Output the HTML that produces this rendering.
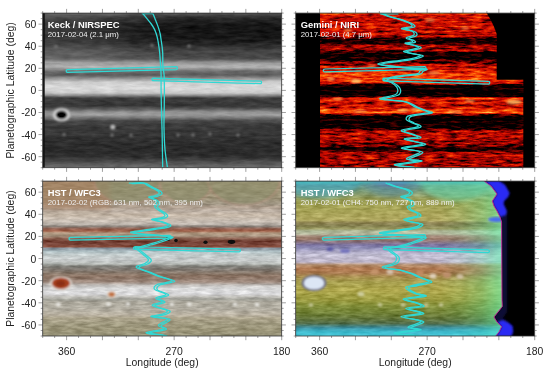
<!DOCTYPE html>
<html><head><meta charset="utf-8"><style>
html,body{margin:0;padding:0;background:#fff;width:550px;height:372px;overflow:hidden}
svg{display:block}
text{-webkit-font-smoothing:antialiased}
.t{font-family:"Liberation Sans",sans-serif;font-size:10.4px;fill:#222}
.h{font-family:"Liberation Sans",sans-serif;font-size:9.4px;font-weight:bold;fill:#fff}
.s{font-family:"Liberation Sans",sans-serif;font-size:7.8px;fill:#eee}
</style></head><body>
<svg width="550" height="372" viewBox="0 0 550 372" style="will-change:transform">
<defs><clipPath id="ck"><rect x="42.7" y="13.1" width="239.00" height="154.60"/></clipPath><linearGradient id="gk" x1="0" y1="13.1" x2="0" y2="167.7" gradientUnits="userSpaceOnUse"><stop offset="0.0000" stop-color="#585858"/><stop offset="0.0155" stop-color="#3e3e3e"/><stop offset="0.0446" stop-color="#222"/><stop offset="0.0834" stop-color="#161616"/><stop offset="0.1481" stop-color="#161616"/><stop offset="0.1869" stop-color="#1e1e1e"/><stop offset="0.2193" stop-color="#323232"/><stop offset="0.2516" stop-color="#464646"/><stop offset="0.2775" stop-color="#464646"/><stop offset="0.2969" stop-color="#505050"/><stop offset="0.3228" stop-color="#989898"/><stop offset="0.3486" stop-color="#b4b4b4"/><stop offset="0.3745" stop-color="#707070"/><stop offset="0.4004" stop-color="#5a5a5a"/><stop offset="0.4198" stop-color="#8a8a8a"/><stop offset="0.4457" stop-color="#cccccc"/><stop offset="0.4845" stop-color="#dadada"/><stop offset="0.5168" stop-color="#c8c8c8"/><stop offset="0.5330" stop-color="#8a8a8a"/><stop offset="0.5492" stop-color="#3c3c3c"/><stop offset="0.6009" stop-color="#383838"/><stop offset="0.6203" stop-color="#5a5a5a"/><stop offset="0.6397" stop-color="#909090"/><stop offset="0.6591" stop-color="#9e9e9e"/><stop offset="0.6785" stop-color="#707070"/><stop offset="0.6979" stop-color="#484848"/><stop offset="0.7303" stop-color="#3a3a3a"/><stop offset="0.7885" stop-color="#353535"/><stop offset="0.8532" stop-color="#2b2b2b"/><stop offset="0.9243" stop-color="#2c2c2c"/><stop offset="0.9567" stop-color="#464646"/><stop offset="0.9825" stop-color="#5e5e5e"/><stop offset="1.0000" stop-color="#6e6e6e"/></linearGradient><linearGradient id="gkl" x1="42.7" y1="0" x2="281.7" y2="0" gradientUnits="userSpaceOnUse"><stop offset="0.0000" stop-color="#fff" stop-opacity="0.0"/><stop offset="0.0126" stop-color="#fff" stop-opacity="0.15"/><stop offset="0.2092" stop-color="#fff" stop-opacity="0.12"/><stop offset="0.4184" stop-color="#fff" stop-opacity="0.03"/><stop offset="0.5439" stop-color="#fff" stop-opacity="0.0"/><stop offset="1.0000" stop-color="#fff" stop-opacity="0"/></linearGradient><filter id="ftexk" filterUnits="objectBoundingBox" x="0" y="0" width="1" height="1" color-interpolation-filters="sRGB"><feTurbulence type="fractalNoise" baseFrequency="0.07 0.3" numOctaves="3" seed="8" result="t"/><feColorMatrix in="t" type="matrix" values="1 0 0 0 0  1 0 0 0 0  1 0 0 0 0  0 0 0 0 1" result="n"/><feComposite in="SourceGraphic" in2="n" operator="arithmetic" k1="0" k2="1" k3="0.16" k4="-0.08"/></filter><filter id="fk1" x="-50%" y="-50%" width="200%" height="200%"><feGaussianBlur stdDeviation="0.9"/></filter><filter id="fk2" x="-100%" y="-100%" width="300%" height="300%"><feGaussianBlur stdDeviation="1.2"/></filter><clipPath id="cg"><rect x="295.7" y="13.1" width="239.00" height="154.60"/></clipPath><linearGradient id="gg" x1="0" y1="13.1" x2="0" y2="167.7" gradientUnits="userSpaceOnUse"><stop offset="0.0000" stop-color="#9e9e9e"/><stop offset="0.0123" stop-color="#5c5c5c"/><stop offset="0.0446" stop-color="#4f4f4f"/><stop offset="0.0964" stop-color="#575757"/><stop offset="0.1481" stop-color="#4a4a4a"/><stop offset="0.1675" stop-color="#080808"/><stop offset="0.1934" stop-color="#0d0d0d"/><stop offset="0.2128" stop-color="#454545"/><stop offset="0.2387" stop-color="#3d3d3d"/><stop offset="0.2549" stop-color="#030303"/><stop offset="0.2969" stop-color="#030303"/><stop offset="0.3163" stop-color="#1f1f1f"/><stop offset="0.3454" stop-color="#4c4c4c"/><stop offset="0.3771" stop-color="#6b6b6b"/><stop offset="0.4004" stop-color="#858585"/><stop offset="0.4327" stop-color="#808080"/><stop offset="0.4554" stop-color="#4c4c4c"/><stop offset="0.4683" stop-color="#000000"/><stop offset="0.5395" stop-color="#000000"/><stop offset="0.5492" stop-color="#737373"/><stop offset="0.5653" stop-color="#6b6b6b"/><stop offset="0.5815" stop-color="#4c4c4c"/><stop offset="0.6074" stop-color="#525252"/><stop offset="0.6268" stop-color="#808080"/><stop offset="0.6429" stop-color="#8c8c8c"/><stop offset="0.6559" stop-color="#333333"/><stop offset="0.6656" stop-color="#000000"/><stop offset="0.7432" stop-color="#000000"/><stop offset="0.7626" stop-color="#424242"/><stop offset="0.7950" stop-color="#4c4c4c"/><stop offset="0.8273" stop-color="#424242"/><stop offset="0.8596" stop-color="#212121"/><stop offset="0.8790" stop-color="#050505"/><stop offset="0.9049" stop-color="#424242"/><stop offset="0.9308" stop-color="#4c4c4c"/><stop offset="0.9631" stop-color="#3d3d3d"/><stop offset="1.0000" stop-color="#424242"/></linearGradient><clipPath id="cgs"><path d="M320 13.1H486.7Q494 25 496.7 34V79.7H523.3V167.7H320Z"/></clipPath><filter id="fhot" x="295" y="13" width="240" height="156" filterUnits="userSpaceOnUse" color-interpolation-filters="sRGB"><feTurbulence type="fractalNoise" baseFrequency="0.085 0.42" numOctaves="4" seed="11" result="t"/><feColorMatrix in="t" type="matrix" values="1 0 0 0 0  1 0 0 0 0  1 0 0 0 0  0 0 0 0 1" result="n"/><feComposite in="SourceGraphic" in2="n" operator="arithmetic" k1="0" k2="1" k3="0.85" k4="-0.425" result="s"/><feComponentTransfer in="s"><feFuncR type="table" tableValues="0 0.45 0.8 0.95 1 1 1"/><feFuncG type="table" tableValues="0 0 0.04 0.2 0.45 0.75 0.95"/><feFuncB type="table" tableValues="0 0 0 0 0.05 0.3 0.7"/><feFuncA type="table" tableValues="1 1"/></feComponentTransfer></filter><linearGradient id="ggd" x1="0" y1="13.1" x2="0" y2="167.7" gradientUnits="userSpaceOnUse"><stop offset="0.0000" stop-color="#000" stop-opacity="0"/><stop offset="0.1611" stop-color="#000" stop-opacity="0"/><stop offset="0.1740" stop-color="#000" stop-opacity="0.4"/><stop offset="0.1934" stop-color="#000" stop-opacity="0.4"/><stop offset="0.2063" stop-color="#000" stop-opacity="0"/><stop offset="0.2484" stop-color="#000" stop-opacity="0"/><stop offset="0.2613" stop-color="#000" stop-opacity="0.45"/><stop offset="0.2937" stop-color="#000" stop-opacity="0.45"/><stop offset="0.3098" stop-color="#000" stop-opacity="0"/><stop offset="0.4618" stop-color="#000" stop-opacity="0"/><stop offset="0.4748" stop-color="#000" stop-opacity="0.55"/><stop offset="0.5330" stop-color="#000" stop-opacity="0.55"/><stop offset="0.5440" stop-color="#000" stop-opacity="0"/><stop offset="0.6591" stop-color="#000" stop-opacity="0"/><stop offset="0.6721" stop-color="#000" stop-opacity="0.5"/><stop offset="0.7367" stop-color="#000" stop-opacity="0.5"/><stop offset="0.7529" stop-color="#000" stop-opacity="0"/><stop offset="0.8629" stop-color="#000" stop-opacity="0"/><stop offset="0.8726" stop-color="#000" stop-opacity="0.35"/><stop offset="0.8887" stop-color="#000" stop-opacity="0.35"/><stop offset="0.8984" stop-color="#000" stop-opacity="0"/><stop offset="1.0000" stop-color="#000" stop-opacity="0"/></linearGradient><clipPath id="cr"><rect x="42.7" y="181.1" width="239.00" height="154.90"/></clipPath><linearGradient id="gr" x1="0" y1="181.1" x2="0" y2="336.0" gradientUnits="userSpaceOnUse"><stop offset="0.0000" stop-color="#a89880"/><stop offset="0.0123" stop-color="#9e9274"/><stop offset="0.0575" stop-color="#9a9072"/><stop offset="0.1091" stop-color="#9c9278"/><stop offset="0.1478" stop-color="#a09684"/><stop offset="0.1672" stop-color="#b0a090"/><stop offset="0.1930" stop-color="#b8aca0"/><stop offset="0.2189" stop-color="#c6b8a8"/><stop offset="0.2608" stop-color="#c8beb4"/><stop offset="0.2802" stop-color="#b8b0a8"/><stop offset="0.2931" stop-color="#8a8078"/><stop offset="0.3092" stop-color="#946050"/><stop offset="0.3221" stop-color="#a06048"/><stop offset="0.3351" stop-color="#b09880"/><stop offset="0.3544" stop-color="#a89480"/><stop offset="0.3706" stop-color="#8a6050"/><stop offset="0.3899" stop-color="#703c30"/><stop offset="0.4093" stop-color="#784438"/><stop offset="0.4222" stop-color="#8a5040"/><stop offset="0.4351" stop-color="#8a96a0"/><stop offset="0.4545" stop-color="#b0c0c4"/><stop offset="0.4771" stop-color="#c6cece"/><stop offset="0.5094" stop-color="#c4c8c8"/><stop offset="0.5352" stop-color="#b8bcb8"/><stop offset="0.5481" stop-color="#80807a"/><stop offset="0.5739" stop-color="#807870"/><stop offset="0.5933" stop-color="#8a7a6c"/><stop offset="0.6127" stop-color="#8a7262"/><stop offset="0.6320" stop-color="#907a6c"/><stop offset="0.6514" stop-color="#a08c80"/><stop offset="0.6708" stop-color="#c0bcb8"/><stop offset="0.6901" stop-color="#d8d8d8"/><stop offset="0.7289" stop-color="#dadadc"/><stop offset="0.7482" stop-color="#c0beb8"/><stop offset="0.7611" stop-color="#a0a098"/><stop offset="0.7805" stop-color="#aca89c"/><stop offset="0.8192" stop-color="#b0aca0"/><stop offset="0.8451" stop-color="#b4aea0"/><stop offset="0.8644" stop-color="#c0b8a8"/><stop offset="0.8838" stop-color="#a8a088"/><stop offset="0.9225" stop-color="#a09a80"/><stop offset="0.9613" stop-color="#9a9478"/><stop offset="1.0000" stop-color="#969278"/></linearGradient><filter id="ftex" filterUnits="objectBoundingBox" x="0" y="0" width="1" height="1" color-interpolation-filters="sRGB"><feTurbulence type="fractalNoise" baseFrequency="0.08 0.35" numOctaves="3" seed="3" result="t"/><feColorMatrix in="t" type="matrix" values="1 0 0 0 0  1 0 0 0 0  1 0 0 0 0  0 0 0 0 1" result="n"/><feComposite in="SourceGraphic" in2="n" operator="arithmetic" k1="0" k2="1" k3="0.3" k4="-0.15"/></filter><clipPath id="cc"><rect x="295.7" y="181.1" width="239.00" height="154.90"/></clipPath><linearGradient id="gc" x1="0" y1="181.1" x2="0" y2="336.0" gradientUnits="userSpaceOnUse"><stop offset="0.0000" stop-color="#5a9896"/><stop offset="0.0252" stop-color="#66988c"/><stop offset="0.0575" stop-color="#789a78"/><stop offset="0.0897" stop-color="#8a9c6a"/><stop offset="0.1156" stop-color="#9a9e58"/><stop offset="0.1543" stop-color="#a0a052"/><stop offset="0.1866" stop-color="#a8a458"/><stop offset="0.2189" stop-color="#aca65c"/><stop offset="0.2511" stop-color="#b0a860"/><stop offset="0.2705" stop-color="#8a8050"/><stop offset="0.2899" stop-color="#848050"/><stop offset="0.3060" stop-color="#9a9a62"/><stop offset="0.3221" stop-color="#b0b898"/><stop offset="0.3415" stop-color="#b8bca0"/><stop offset="0.3544" stop-color="#a89080"/><stop offset="0.3738" stop-color="#9a7868"/><stop offset="0.3932" stop-color="#8a7480"/><stop offset="0.4125" stop-color="#7a72a0"/><stop offset="0.4319" stop-color="#8a88b0"/><stop offset="0.4545" stop-color="#b0acc8"/><stop offset="0.4771" stop-color="#c4c0d4"/><stop offset="0.5223" stop-color="#c0b8cc"/><stop offset="0.5416" stop-color="#b08a68"/><stop offset="0.5675" stop-color="#b07850"/><stop offset="0.5933" stop-color="#a87a50"/><stop offset="0.6191" stop-color="#a89050"/><stop offset="0.6514" stop-color="#a8a050"/><stop offset="0.7030" stop-color="#b0a84e"/><stop offset="0.7676" stop-color="#98983e"/><stop offset="0.8063" stop-color="#84903c"/><stop offset="0.8515" stop-color="#728238"/><stop offset="0.8903" stop-color="#62743c"/><stop offset="0.9225" stop-color="#547050"/><stop offset="0.9484" stop-color="#3e7888"/><stop offset="0.9742" stop-color="#3caac0"/><stop offset="1.0000" stop-color="#50d0e0"/></linearGradient><clipPath id="ccp"><path d="M294.7 180.1L484.0 181.1L491.0 186.0L497.0 194.0L492.4 201.0L494.0 206.0L497.0 211.0L500.0 217.0L501.6 222.0L502.0 300.0L502.3 306.5L498.0 312.0L494.0 317.0L497.0 322.0L501.6 326.7L499.0 332.0L495.3 336.5L294.7 337.0Z"/></clipPath><filter id="fb1" x="-20%" y="-20%" width="140%" height="140%"><feGaussianBlur stdDeviation="0.8"/></filter><linearGradient id="gcl" x1="440" y1="0" x2="503" y2="0" gradientUnits="userSpaceOnUse"><stop offset="0.0000" stop-color="#58e8a0" stop-opacity="0"/><stop offset="0.3492" stop-color="#58e8a0" stop-opacity="0.1"/><stop offset="0.6667" stop-color="#58f0a8" stop-opacity="0.28"/><stop offset="0.8889" stop-color="#60f8b0" stop-opacity="0.5"/><stop offset="1.0000" stop-color="#70ffc0" stop-opacity="0.6"/></linearGradient><filter id="fb3" x="-30%" y="-30%" width="160%" height="160%"><feGaussianBlur stdDeviation="2.5"/></filter><linearGradient id="gcb" x1="295.7" y1="0" x2="503" y2="0" gradientUnits="userSpaceOnUse"><stop offset="0.0000" stop-color="#40c8d8" stop-opacity="0.0"/><stop offset="0.0048" stop-color="#40c8d8" stop-opacity="0.0"/></linearGradient></defs>
<g clip-path="url(#ck)"><rect x="42.7" y="13.1" width="239.0" height="154.60" fill="url(#gk)" filter="url(#ftexk)"/><rect x="42.7" y="13.1" width="239.0" height="50" fill="url(#gkl)"/><g filter="url(#fk1)"><ellipse cx="61.5" cy="114.8" rx="9.6" ry="7.0" fill="#9a9a9a"/><ellipse cx="61.5" cy="114.8" rx="8.0" ry="5.8" fill="#e8e8e8"/><ellipse cx="61.5" cy="114.8" rx="6.0" ry="4.4" fill="#000"/></g><circle cx="112.8" cy="127" r="2.6" fill="#b8b8b8" filter="url(#fk2)"/><circle cx="64" cy="134.5" r="1.8" fill="#707070" filter="url(#fk2)"/><circle cx="112" cy="135" r="1.8" fill="#707070" filter="url(#fk2)"/><circle cx="131" cy="135" r="1.8" fill="#707070" filter="url(#fk2)"/><circle cx="178" cy="135" r="1.8" fill="#707070" filter="url(#fk2)"/><circle cx="193" cy="135" r="1.8" fill="#707070" filter="url(#fk2)"/><circle cx="210" cy="134" r="1.8" fill="#707070" filter="url(#fk2)"/><circle cx="238" cy="135" r="1.8" fill="#707070" filter="url(#fk2)"/><circle cx="56" cy="46.5" r="1.8" fill="#707070" filter="url(#fk2)"/><circle cx="152" cy="45.5" r="1.8" fill="#707070" filter="url(#fk2)"/><circle cx="189" cy="46" r="1.8" fill="#707070" filter="url(#fk2)"/><rect x="42.7" y="13.1" width="2" height="154.60" fill="#111"/></g><g clip-path="url(#cg)"><rect x="295.7" y="13.1" width="239.0" height="154.60" fill="#000"/><g clip-path="url(#cgs)"><rect x="295" y="13" width="240" height="156" fill="url(#gg)" filter="url(#fhot)"/></g><path d="M320 13.1H486.7Q494 25 496.7 34V79.7H523.3V167.7H320Z" fill="url(#ggd)"/><ellipse cx="356" cy="81" rx="5" ry="2" fill="#ffd070" opacity="0.9" filter="url(#fb1)"/><ellipse cx="331" cy="79" rx="4" ry="1.6" fill="#ffd070" opacity="0.7" filter="url(#fb1)"/><ellipse cx="434" cy="73" rx="6" ry="1.6" fill="#ffd070" opacity="0.6" filter="url(#fb1)"/><ellipse cx="403" cy="110.5" rx="6" ry="1.5" fill="#ffd070" opacity="0.8" filter="url(#fb1)"/><ellipse cx="415" cy="109" rx="4" ry="1.4" fill="#ffd070" opacity="0.7" filter="url(#fb1)"/><ellipse cx="514" cy="102" rx="8" ry="2.2" fill="#ffd070" opacity="0.8" filter="url(#fb1)"/><ellipse cx="470" cy="101" rx="5" ry="1.4" fill="#ffd070" opacity="0.6" filter="url(#fb1)"/><ellipse cx="338" cy="99" rx="5" ry="1.3" fill="#ffd070" opacity="0.6" filter="url(#fb1)"/><ellipse cx="360" cy="111.5" rx="7" ry="1.3" fill="#ffd070" opacity="0.6" filter="url(#fb1)"/><ellipse cx="455" cy="112" rx="8" ry="1.3" fill="#ffd070" opacity="0.6" filter="url(#fb1)"/><ellipse cx="372" cy="66" rx="4" ry="1.4" fill="#ffd070" opacity="0.5" filter="url(#fb1)"/><ellipse cx="348" cy="30" rx="4" ry="1.8" fill="#ffd070" opacity="0.5" filter="url(#fb1)"/><ellipse cx="430" cy="20" rx="5" ry="1.8" fill="#ffd070" opacity="0.5" filter="url(#fb1)"/><ellipse cx="465" cy="28" rx="4" ry="1.6" fill="#ffd070" opacity="0.5" filter="url(#fb1)"/></g><g clip-path="url(#cr)"><rect x="42.7" y="181.1" width="239.0" height="154.90" fill="url(#gr)" filter="url(#ftex)"/><g filter="url(#fb3)" opacity="0.55"><rect x="40" y="179" width="70" height="30" fill="#a87a5a"/></g><ellipse cx="128" cy="180" rx="34" ry="24" fill="#8c8e6c" opacity="0.55" stroke="#c88c84" stroke-width="1.2" stroke-opacity="0.8" filter="url(#fb1)"/><ellipse cx="186" cy="180" rx="27" ry="24" fill="#8c8e6c" opacity="0.55" stroke="#c88c84" stroke-width="1.2" stroke-opacity="0.8" filter="url(#fb1)"/><ellipse cx="244" cy="180" rx="36" ry="25" fill="#8c8e6c" opacity="0.55" stroke="#c88c84" stroke-width="1.2" stroke-opacity="0.8" filter="url(#fb1)"/><g filter="url(#fb1)"><ellipse cx="61" cy="283.2" rx="11" ry="7" fill="#e0dcd4"/><ellipse cx="61" cy="283.2" rx="9.2" ry="5.8" fill="#a8401e"/><ellipse cx="60.5" cy="283.5" rx="5" ry="3" fill="#8a2e14"/></g><g filter="url(#fb1)"><ellipse cx="111.6" cy="294.4" rx="4.6" ry="3.2" fill="#e4dcd0"/><ellipse cx="111.6" cy="294.4" rx="3.3" ry="2.3" fill="#c07040"/></g><ellipse cx="168" cy="239" rx="2.3" ry="1.9" fill="#0e0e0e"/><ellipse cx="176" cy="240.5" rx="1.8" ry="1.7" fill="#0e0e0e"/><ellipse cx="205.5" cy="242.3" rx="2.1" ry="1.7" fill="#0e0e0e"/><ellipse cx="231.5" cy="241.8" rx="3.8" ry="2.1" fill="#0e0e0e"/><ellipse cx="58.3" cy="304.3" rx="2.4" ry="1.7" fill="#ecebe6" filter="url(#fb1)"/><ellipse cx="108.5" cy="304.3" rx="2.4" ry="1.7" fill="#ecebe6" filter="url(#fb1)"/><ellipse cx="128" cy="304" rx="2.4" ry="1.7" fill="#ecebe6" filter="url(#fb1)"/><ellipse cx="171.8" cy="304.3" rx="2.4" ry="1.7" fill="#ecebe6" filter="url(#fb1)"/><ellipse cx="189.3" cy="304.3" rx="2.4" ry="1.7" fill="#ecebe6" filter="url(#fb1)"/><ellipse cx="235" cy="304.3" rx="2.4" ry="1.7" fill="#ecebe6" filter="url(#fb1)"/><ellipse cx="257" cy="304.5" rx="2.4" ry="1.7" fill="#ecebe6" filter="url(#fb1)"/></g><g clip-path="url(#cc)"><rect x="295.7" y="181.1" width="239.0" height="154.90" fill="#000"/><path d="M294.7 180.1L484.0 181.1L491.0 186.0L497.0 194.0L492.4 201.0L494.0 206.0L497.0 211.0L500.0 217.0L501.6 222.0L502.0 300.0L502.3 306.5L498.0 312.0L494.0 317.0L497.0 322.0L501.6 326.7L499.0 332.0L495.3 336.5L512.0 336.5L513.0 332.0L512.5 326.0L508.0 322.5L505.0 320.0L503.0 318.0L507.0 312.0L507.0 222.0L506.8 211.0L503.5 204.0L504.0 201.0L508.0 197.0L509.5 193.0L505.0 185.0L499.0 181.1Z" fill="#0c0c34" filter="url(#fb1)"/><path d="M484 181.1L491 186L497 194L492.4 201L494 206L497 211L500 217L506 215L506.8 211L503.5 204L504 201L508 197L509.5 193L505 185L499 181.1Z" fill="#2a2af4" filter="url(#fb1)"/><path d="M497 322L501.6 326.7L499 332L495.3 336.5L511 336.5L513 332L512.5 326L508 322.5L503 320Z" fill="#2a2af4" filter="url(#fb1)"/><g clip-path="url(#ccp)"><rect x="295.7" y="181.1" width="239.0" height="154.90" fill="url(#gc)" filter="url(#ftex)"/><rect x="440" y="181.1" width="64" height="154.90" fill="url(#gcl)"/><ellipse cx="318" cy="178" rx="45" ry="20" fill="#48a8c0" opacity="0.6" filter="url(#fb3)"/><ellipse cx="392" cy="176" rx="32" ry="21" fill="#5a8a9c" opacity="0.55" filter="url(#fb3)"/><ellipse cx="392" cy="172" rx="26" ry="14" fill="#6050c0" opacity="0.5" filter="url(#fb3)"/><ellipse cx="456" cy="176" rx="38" ry="25" fill="#68d8a8" opacity="0.55" filter="url(#fb3)"/><rect x="295" y="327" width="210" height="10" fill="#40c8d8" opacity="0.5" filter="url(#fb3)"/><rect x="295" y="179" width="210" height="5" fill="#40d0d0" opacity="0.45" filter="url(#fb1)"/><ellipse cx="314" cy="283" rx="12.5" ry="8" fill="#6a6a80" filter="url(#fb1)"/><ellipse cx="314" cy="283" rx="10.5" ry="6.6" fill="#dce6f4" filter="url(#fb1)"/><ellipse cx="375" cy="271.5" rx="4" ry="3" fill="#c89870" opacity="0.85" filter="url(#fb1)"/><ellipse cx="390" cy="272" rx="3.5" ry="2.6" fill="#e0d0c0" opacity="0.85" filter="url(#fb1)"/><ellipse cx="420" cy="273" rx="4" ry="3" fill="#c89068" opacity="0.85" filter="url(#fb1)"/><ellipse cx="433" cy="276" rx="3.5" ry="2.6" fill="#e8dccc" opacity="0.85" filter="url(#fb1)"/><ellipse cx="447" cy="275" rx="4" ry="3" fill="#c09070" opacity="0.85" filter="url(#fb1)"/><ellipse cx="460" cy="276.5" rx="3.5" ry="2.5" fill="#d8c8b0" opacity="0.85" filter="url(#fb1)"/><ellipse cx="345" cy="251" rx="5" ry="2.2" fill="#6a6ab8" opacity="0.85" filter="url(#fb1)"/><ellipse cx="330" cy="249" rx="3.5" ry="2" fill="#5050a0" opacity="0.85" filter="url(#fb1)"/><ellipse cx="361" cy="294" rx="3.5" ry="2.5" fill="#d8d8b0" opacity="0.8" filter="url(#fb1)"/><ellipse cx="311" cy="305" rx="2.5" ry="1.8" fill="#d8d8b0" opacity="0.8" filter="url(#fb1)"/><ellipse cx="380" cy="305" rx="2.5" ry="1.8" fill="#d8d8b0" opacity="0.8" filter="url(#fb1)"/><ellipse cx="403" cy="305" rx="2.5" ry="1.8" fill="#d8d8b0" opacity="0.8" filter="url(#fb1)"/><ellipse cx="426" cy="305" rx="2.5" ry="1.8" fill="#d8d8b0" opacity="0.8" filter="url(#fb1)"/><ellipse cx="441" cy="305" rx="2.5" ry="1.8" fill="#d8d8b0" opacity="0.8" filter="url(#fb1)"/><ellipse cx="496.5" cy="219.5" rx="8.5" ry="2.4" fill="#4a6af0" filter="url(#fb1)"/></g><path d="M484.0 181.1L491.0 186.0L497.0 194.0L492.4 201.0L494.0 206.0L497.0 211.0L500.0 217.0L501.6 222.0L502.0 300.0L502.3 306.5L498.0 312.0L494.0 317.0L497.0 322.0L501.6 326.7L499.0 332.0L495.3 336.5" fill="none" stroke="#c0209a" stroke-width="0.9"/></g><g clip-path="url(#ck)"><path d="M141.80 12.00C141.92 12.18 141.67 12.03 142.50 13.10C143.33 14.17 145.37 16.62 146.80 18.40C148.23 20.17 149.83 21.97 151.10 23.75C152.37 25.53 153.50 27.31 154.40 29.10C155.30 30.89 155.93 32.70 156.50 34.50C157.07 36.30 157.43 38.10 157.80 39.90C158.17 41.70 158.38 43.12 158.70 45.30C159.02 47.48 159.38 49.55 159.70 53.00C160.02 56.45 160.37 62.33 160.60 66.00C160.83 69.67 161.02 71.00 161.10 75.00C161.18 79.00 161.03 84.17 161.10 90.00C161.17 95.83 161.35 103.67 161.50 110.00C161.65 116.33 161.85 121.42 162.00 128.00C162.15 134.58 162.28 142.75 162.40 149.50C162.52 156.25 162.65 165.33 162.70 168.50" fill="none" stroke="#30d8d4" stroke-width="1.3" stroke-linejoin="round" stroke-linecap="round"/><path d="M152.50 12.00C152.53 12.18 152.30 12.03 152.70 13.10C153.10 14.17 154.18 16.62 154.90 18.40C155.62 20.17 156.33 21.97 157.00 23.75C157.67 25.53 158.35 27.31 158.90 29.10C159.45 30.89 159.93 32.70 160.30 34.50C160.67 36.30 160.83 38.10 161.10 39.90C161.37 41.70 161.63 43.12 161.90 45.30C162.17 47.48 162.53 49.55 162.70 53.00C162.87 56.45 162.67 62.33 162.90 66.00C163.13 69.67 163.85 71.00 164.10 75.00C164.35 79.00 164.38 84.17 164.40 90.00C164.42 95.83 164.27 103.67 164.20 110.00C164.13 116.33 163.87 121.42 164.00 128.00C164.13 134.58 164.40 142.75 165.00 149.50C165.60 156.25 167.17 165.33 167.60 168.50" fill="none" stroke="#30d8d4" stroke-width="1.3" stroke-linejoin="round" stroke-linecap="round"/><path d="M142.30 13.70 L152.50 13.70" fill="none" stroke="#30d8d4" stroke-width="1.3" stroke-linejoin="round" stroke-linecap="round"/><path d="M67.42 69.58L176.17 66.67A1.43 1.43 0 0 1 176.17 69.52L67.42 72.42A1.43 1.43 0 0 1 67.42 69.58Z" fill="none" stroke="#30d8d4" stroke-width="1.25"/><path d="M153.25 78.15L260.35 81.15A1.25 1.25 0 0 1 260.35 83.65L153.25 80.65A1.25 1.25 0 0 1 153.25 78.15Z" fill="none" stroke="#30d8d4" stroke-width="1.25"/></g><g clip-path="url(#cg)"><path d="M380.00 13.00C381.35 13.57 385.40 15.50 388.10 16.40C390.80 17.30 393.52 17.62 396.20 18.40C398.88 19.18 401.85 20.20 404.20 21.10C406.55 22.00 409.07 22.90 410.30 23.80C411.53 24.70 413.07 25.72 411.60 26.50C410.13 27.28 402.28 27.95 401.50 28.50C400.72 29.05 404.98 29.25 406.90 29.80C408.82 30.35 411.88 30.90 413.00 31.80C414.12 32.70 414.73 34.18 413.60 35.20C412.47 36.22 406.63 37.12 406.20 37.90C405.77 38.68 409.98 39.23 411.00 39.90C412.02 40.57 413.32 41.33 412.30 41.90C411.28 42.47 404.68 42.73 404.90 43.30C405.12 43.87 411.35 44.63 413.60 45.30C415.85 45.97 418.62 46.63 418.40 47.30C418.18 47.97 414.77 48.62 412.30 49.30C409.83 49.98 403.82 50.72 403.60 51.40C403.38 52.08 408.20 52.73 411.00 53.40C413.80 54.07 419.97 54.62 420.40 55.40C420.83 56.18 416.97 57.27 413.60 58.10C410.23 58.93 404.82 59.73 400.20 60.40C395.58 61.07 389.67 61.50 385.90 62.10C382.13 62.70 377.58 63.43 377.60 64.00C377.62 64.57 380.67 64.83 386.00 65.50C391.33 66.17 403.27 67.50 409.60 68.00C415.93 68.50 422.27 68.00 424.00 68.50C425.73 69.00 421.22 70.10 420.00 71.00C418.78 71.90 420.80 73.02 416.70 73.90C412.60 74.78 400.92 75.32 395.40 76.30C389.88 77.28 384.38 78.82 383.60 79.80C382.82 80.78 388.53 81.02 390.70 82.20C392.87 83.38 395.43 85.33 396.60 86.90C397.77 88.47 398.05 90.25 397.70 91.60C397.35 92.95 397.48 93.85 394.50 95.00C391.52 96.15 380.62 97.68 379.80 98.50C378.98 99.32 385.35 99.33 389.60 99.90C393.85 100.47 401.05 100.75 405.30 101.90C409.55 103.05 411.83 105.33 415.10 106.80C418.37 108.27 422.62 109.73 424.90 110.70C427.18 111.67 431.42 111.78 428.80 112.60C426.18 113.42 412.95 114.45 409.20 115.60C405.45 116.75 405.97 118.35 406.30 119.50C406.63 120.65 409.25 121.35 411.20 122.50C413.15 123.65 419.63 125.10 418.00 126.40C416.37 127.70 402.53 129.00 401.40 130.30C400.27 131.60 408.43 133.05 411.20 134.20C413.97 135.35 419.15 136.38 418.00 137.20C416.85 138.02 403.48 137.97 404.30 139.10C405.12 140.23 423.38 142.53 422.90 144.00C422.42 145.47 401.88 146.58 401.40 147.90C400.92 149.22 419.18 150.10 420.00 151.90C420.82 153.70 406.47 157.23 406.30 158.70C406.13 160.17 420.97 159.72 419.00 160.70C417.03 161.68 396.00 163.55 394.50 164.60C393.00 165.65 405.58 166.35 410.00 167.00C414.42 167.65 419.17 168.25 421.00 168.50" fill="none" stroke="#30d8d4" stroke-width="1.3" stroke-linejoin="round" stroke-linecap="round"/><path d="M382.80 13.50C384.15 14.07 388.20 16.00 390.90 16.90C393.60 17.80 396.32 18.12 399.00 18.90C401.68 19.68 404.65 20.70 407.00 21.60C409.35 22.50 411.87 23.40 413.10 24.30C414.33 25.20 415.87 26.22 414.40 27.00C412.93 27.78 405.08 28.45 404.30 29.00C403.52 29.55 407.78 29.75 409.70 30.30C411.62 30.85 414.68 31.40 415.80 32.30C416.92 33.20 417.53 34.68 416.40 35.70C415.27 36.72 409.43 37.62 409.00 38.40C408.57 39.18 412.78 39.73 413.80 40.40C414.82 41.07 416.12 41.83 415.10 42.40C414.08 42.97 407.48 43.23 407.70 43.80C407.92 44.37 414.15 45.13 416.40 45.80C418.65 46.47 421.42 47.13 421.20 47.80C420.98 48.47 417.57 49.12 415.10 49.80C412.63 50.48 406.62 51.22 406.40 51.90C406.18 52.58 411.00 53.23 413.80 53.90C416.60 54.57 422.77 55.12 423.20 55.90C423.63 56.68 419.77 57.77 416.40 58.60C413.03 59.43 407.62 60.23 403.00 60.90C398.38 61.57 392.47 62.00 388.70 62.60C384.93 63.20 380.38 63.93 380.40 64.50C380.42 65.07 383.47 65.33 388.80 66.00C394.13 66.67 406.07 68.00 412.40 68.50C418.73 69.00 425.07 68.50 426.80 69.00C428.53 69.50 424.02 70.60 422.80 71.50C421.58 72.40 423.60 73.52 419.50 74.40C415.40 75.28 403.72 75.82 398.20 76.80C392.68 77.78 387.18 79.32 386.40 80.30C385.62 81.28 391.33 81.52 393.50 82.70C395.67 83.88 398.23 85.83 399.40 87.40C400.57 88.97 400.85 90.75 400.50 92.10C400.15 93.45 400.28 94.35 397.30 95.50C394.32 96.65 383.42 98.18 382.60 99.00C381.78 99.82 388.15 99.83 392.40 100.40C396.65 100.97 403.85 101.25 408.10 102.40C412.35 103.55 414.63 105.83 417.90 107.30C421.17 108.77 425.42 110.23 427.70 111.20C429.98 112.17 434.22 112.28 431.60 113.10C428.98 113.92 415.75 114.95 412.00 116.10C408.25 117.25 408.77 118.85 409.10 120.00C409.43 121.15 412.05 121.85 414.00 123.00C415.95 124.15 422.43 125.60 420.80 126.90C419.17 128.20 405.33 129.50 404.20 130.80C403.07 132.10 411.23 133.55 414.00 134.70C416.77 135.85 421.95 136.88 420.80 137.70C419.65 138.52 406.28 138.47 407.10 139.60C407.92 140.73 426.18 143.03 425.70 144.50C425.22 145.97 404.68 147.08 404.20 148.40C403.72 149.72 421.98 150.60 422.80 152.40C423.62 154.20 409.27 157.73 409.10 159.20C408.93 160.67 423.77 160.22 421.80 161.20C419.83 162.18 398.80 164.05 397.30 165.10C395.80 166.15 408.38 166.85 412.80 167.50C417.22 168.15 421.97 168.75 423.80 169.00" fill="none" stroke="#30d8d4" stroke-width="1.3" stroke-linejoin="round" stroke-linecap="round"/><path d="M380.50 13.80 L398.00 13.80" fill="none" stroke="#30d8d4" stroke-width="1.3" stroke-linejoin="round" stroke-linecap="round"/><path d="M324.70 69.00L424.60 66.60A1.40 1.40 0 0 1 424.60 69.40L324.70 71.80A1.40 1.40 0 0 1 324.70 69.00Z" fill="none" stroke="#30d8d4" stroke-width="1.25"/><path d="M384.10 78.20L488.50 81.40A1.30 1.30 0 0 1 488.50 84.00L384.10 80.80A1.30 1.30 0 0 1 384.10 78.20Z" fill="none" stroke="#30d8d4" stroke-width="1.25"/></g><g clip-path="url(#cr)"><path d="M129.40 183.20C131.62 183.13 139.73 182.43 142.70 182.80C145.67 183.17 145.47 184.47 147.20 185.40C148.93 186.33 151.27 187.42 153.10 188.40C154.93 189.38 157.22 190.43 158.20 191.30C159.18 192.17 159.62 192.85 159.00 193.60C158.38 194.35 156.23 195.20 154.50 195.80C152.77 196.40 148.72 196.58 148.60 197.20C148.48 197.82 152.43 198.50 153.80 199.50C155.17 200.50 156.68 202.10 156.80 203.20C156.92 204.30 154.50 205.13 154.50 206.10C154.50 207.07 155.43 207.88 156.80 209.00C158.17 210.12 161.35 211.68 162.70 212.80C164.05 213.92 165.27 214.83 164.90 215.70C164.53 216.57 162.72 217.38 160.50 218.00C158.28 218.62 151.60 218.80 151.60 219.40C151.60 220.00 157.80 220.73 160.50 221.60C163.20 222.47 167.07 223.73 167.80 224.60C168.53 225.47 167.60 226.07 164.90 226.80C162.20 227.53 157.27 228.13 151.60 229.00C145.93 229.87 132.83 231.20 130.90 232.00C128.97 232.80 136.07 233.33 140.00 233.80C143.93 234.27 150.17 234.40 154.50 234.80C158.83 235.20 163.42 235.83 166.00 236.20C168.58 236.57 171.00 236.20 170.00 237.00C169.00 237.80 163.67 239.75 160.00 241.00C156.33 242.25 151.33 243.50 148.00 244.50C144.67 245.50 142.17 246.50 140.00 247.00C137.83 247.50 134.40 246.18 135.00 247.50C135.60 248.82 141.35 252.85 143.60 254.90C145.85 256.95 148.30 258.37 148.50 259.80C148.70 261.23 146.85 262.27 144.80 263.50C142.75 264.73 135.58 265.75 136.20 267.20C136.82 268.65 145.00 270.75 148.50 272.20C152.00 273.65 153.28 274.47 157.20 275.90C161.12 277.33 172.00 279.37 172.00 280.80C172.00 282.23 160.08 283.07 157.20 284.50C154.32 285.93 153.27 287.75 154.70 289.40C156.13 291.05 165.58 292.95 165.80 294.40C166.02 295.85 156.62 296.87 156.00 298.10C155.38 299.33 162.73 300.57 162.10 301.80C161.47 303.03 151.38 304.07 152.20 305.50C153.02 306.93 165.35 308.97 167.00 310.40C168.65 311.83 164.77 313.07 162.10 314.10C159.43 315.13 150.18 315.78 151.00 316.60C151.82 317.42 165.77 317.57 167.00 319.00C168.23 320.43 159.02 323.53 158.40 325.20C157.78 326.87 165.37 327.75 163.30 329.00C161.23 330.25 146.22 331.70 146.00 332.70C145.78 333.70 158.67 334.28 162.00 335.00C165.33 335.72 165.33 336.67 166.00 337.00" fill="none" stroke="#30d8d4" stroke-width="1.3" stroke-linejoin="round" stroke-linecap="round"/><path d="M132.20 183.70C134.42 183.63 142.53 182.93 145.50 183.30C148.47 183.67 148.27 184.97 150.00 185.90C151.73 186.83 154.07 187.92 155.90 188.90C157.73 189.88 160.02 190.93 161.00 191.80C161.98 192.67 162.42 193.35 161.80 194.10C161.18 194.85 159.03 195.70 157.30 196.30C155.57 196.90 151.52 197.08 151.40 197.70C151.28 198.32 155.23 199.00 156.60 200.00C157.97 201.00 159.48 202.60 159.60 203.70C159.72 204.80 157.30 205.63 157.30 206.60C157.30 207.57 158.23 208.38 159.60 209.50C160.97 210.62 164.15 212.18 165.50 213.30C166.85 214.42 168.07 215.33 167.70 216.20C167.33 217.07 165.52 217.88 163.30 218.50C161.08 219.12 154.40 219.30 154.40 219.90C154.40 220.50 160.60 221.23 163.30 222.10C166.00 222.97 169.87 224.23 170.60 225.10C171.33 225.97 170.40 226.57 167.70 227.30C165.00 228.03 160.07 228.63 154.40 229.50C148.73 230.37 135.63 231.70 133.70 232.50C131.77 233.30 138.87 233.83 142.80 234.30C146.73 234.77 152.97 234.90 157.30 235.30C161.63 235.70 166.22 236.33 168.80 236.70C171.38 237.07 173.80 236.70 172.80 237.50C171.80 238.30 166.47 240.25 162.80 241.50C159.13 242.75 154.13 244.00 150.80 245.00C147.47 246.00 144.97 247.00 142.80 247.50C140.63 248.00 137.20 246.68 137.80 248.00C138.40 249.32 144.15 253.35 146.40 255.40C148.65 257.45 151.10 258.87 151.30 260.30C151.50 261.73 149.65 262.77 147.60 264.00C145.55 265.23 138.38 266.25 139.00 267.70C139.62 269.15 147.80 271.25 151.30 272.70C154.80 274.15 156.08 274.97 160.00 276.40C163.92 277.83 174.80 279.87 174.80 281.30C174.80 282.73 162.88 283.57 160.00 285.00C157.12 286.43 156.07 288.25 157.50 289.90C158.93 291.55 168.38 293.45 168.60 294.90C168.82 296.35 159.42 297.37 158.80 298.60C158.18 299.83 165.53 301.07 164.90 302.30C164.27 303.53 154.18 304.57 155.00 306.00C155.82 307.43 168.15 309.47 169.80 310.90C171.45 312.33 167.57 313.57 164.90 314.60C162.23 315.63 152.98 316.28 153.80 317.10C154.62 317.92 168.57 318.07 169.80 319.50C171.03 320.93 161.82 324.03 161.20 325.70C160.58 327.37 168.17 328.25 166.10 329.50C164.03 330.75 149.02 332.20 148.80 333.20C148.58 334.20 161.47 334.78 164.80 335.50C168.13 336.22 168.13 337.17 168.80 337.50" fill="none" stroke="#30d8d4" stroke-width="1.3" stroke-linejoin="round" stroke-linecap="round"/><path d="M70.40 237.30L169.60 235.40A1.40 1.40 0 0 1 169.60 238.20L70.40 240.10A1.40 1.40 0 0 1 70.40 237.30Z" fill="none" stroke="#30d8d4" stroke-width="1.25"/><path d="M134.85 246.75L239.05 249.15A1.35 1.35 0 0 1 239.05 251.85L134.85 249.45A1.35 1.35 0 0 1 134.85 246.75Z" fill="none" stroke="#30d8d4" stroke-width="1.25"/></g><g clip-path="url(#cc)"><path d="M386.00 183.20C387.33 183.70 391.80 185.47 394.00 186.20C396.20 186.93 397.35 187.12 399.20 187.60C401.05 188.08 403.38 188.37 405.10 189.10C406.82 189.83 409.13 191.02 409.50 192.00C409.87 192.98 408.77 194.25 407.30 195.00C405.83 195.75 400.95 195.88 400.70 196.50C400.45 197.12 404.20 197.95 405.80 198.70C407.40 199.45 409.43 200.02 410.30 201.00C411.17 201.98 411.50 203.63 411.00 204.60C410.50 205.57 407.55 205.93 407.30 206.80C407.05 207.67 408.02 208.80 409.50 209.80C410.98 210.80 414.83 211.82 416.20 212.80C417.57 213.78 418.82 214.83 417.70 215.70C416.58 216.57 411.85 217.38 409.50 218.00C407.15 218.62 403.60 218.80 403.60 219.40C403.60 220.00 406.78 220.87 409.50 221.60C412.22 222.33 419.15 222.82 419.90 223.80C420.65 224.78 418.18 226.38 414.00 227.50C409.82 228.62 400.47 229.63 394.80 230.50C389.13 231.37 381.80 232.15 380.00 232.70C378.20 233.25 380.67 233.42 384.00 233.80C387.33 234.18 394.23 234.55 400.00 235.00C405.77 235.45 414.68 236.13 418.60 236.50C422.52 236.87 423.50 236.65 423.50 237.20C423.50 237.75 420.85 238.83 418.60 239.80C416.35 240.77 413.10 241.97 410.00 243.00C406.90 244.03 403.22 245.28 400.00 246.00C396.78 246.72 392.82 246.87 390.70 247.30C388.58 247.73 387.33 247.82 387.30 248.60C387.27 249.38 388.98 250.60 390.50 252.00C392.02 253.40 395.82 255.18 396.40 257.00C396.98 258.82 396.35 261.15 394.00 262.90C391.65 264.65 381.52 266.33 382.30 267.50C383.08 268.67 394.02 268.92 398.70 269.90C403.38 270.88 407.18 272.22 410.40 273.40C413.62 274.58 414.90 275.65 418.00 277.00C421.10 278.35 429.50 280.17 429.00 281.50C428.50 282.83 418.88 284.02 415.00 285.00C411.12 285.98 405.88 286.03 405.70 287.40C405.52 288.77 410.98 291.83 413.90 293.20C416.82 294.57 424.95 294.63 423.20 295.60C421.45 296.57 404.77 297.83 403.40 299.00C402.03 300.17 412.08 301.43 415.00 302.60C417.92 303.77 422.45 305.03 420.90 306.00C419.35 306.97 405.70 307.22 405.70 308.40C405.70 309.58 421.68 311.73 420.90 313.10C420.12 314.47 401.00 315.23 401.00 316.60C401.00 317.97 419.73 319.55 420.90 321.30C422.07 323.05 408.48 325.73 408.00 327.10C407.52 328.47 420.33 328.52 418.00 329.50C415.67 330.48 394.50 332.03 394.00 333.00C393.50 333.97 410.67 334.63 415.00 335.30C419.33 335.97 419.17 336.72 420.00 337.00" fill="none" stroke="#30d8d4" stroke-width="1.3" stroke-linejoin="round" stroke-linecap="round"/><path d="M388.80 183.70C390.13 184.20 394.60 185.97 396.80 186.70C399.00 187.43 400.15 187.62 402.00 188.10C403.85 188.58 406.18 188.87 407.90 189.60C409.62 190.33 411.93 191.52 412.30 192.50C412.67 193.48 411.57 194.75 410.10 195.50C408.63 196.25 403.75 196.38 403.50 197.00C403.25 197.62 407.00 198.45 408.60 199.20C410.20 199.95 412.23 200.52 413.10 201.50C413.97 202.48 414.30 204.13 413.80 205.10C413.30 206.07 410.35 206.43 410.10 207.30C409.85 208.17 410.82 209.30 412.30 210.30C413.78 211.30 417.63 212.32 419.00 213.30C420.37 214.28 421.62 215.33 420.50 216.20C419.38 217.07 414.65 217.88 412.30 218.50C409.95 219.12 406.40 219.30 406.40 219.90C406.40 220.50 409.58 221.37 412.30 222.10C415.02 222.83 421.95 223.32 422.70 224.30C423.45 225.28 420.98 226.88 416.80 228.00C412.62 229.12 403.27 230.13 397.60 231.00C391.93 231.87 384.60 232.65 382.80 233.20C381.00 233.75 383.47 233.92 386.80 234.30C390.13 234.68 397.03 235.05 402.80 235.50C408.57 235.95 417.48 236.63 421.40 237.00C425.32 237.37 426.30 237.15 426.30 237.70C426.30 238.25 423.65 239.33 421.40 240.30C419.15 241.27 415.90 242.47 412.80 243.50C409.70 244.53 406.02 245.78 402.80 246.50C399.58 247.22 395.62 247.37 393.50 247.80C391.38 248.23 390.13 248.32 390.10 249.10C390.07 249.88 391.78 251.10 393.30 252.50C394.82 253.90 398.62 255.68 399.20 257.50C399.78 259.32 399.15 261.65 396.80 263.40C394.45 265.15 384.32 266.83 385.10 268.00C385.88 269.17 396.82 269.42 401.50 270.40C406.18 271.38 409.98 272.72 413.20 273.90C416.42 275.08 417.70 276.15 420.80 277.50C423.90 278.85 432.30 280.67 431.80 282.00C431.30 283.33 421.68 284.52 417.80 285.50C413.92 286.48 408.68 286.53 408.50 287.90C408.32 289.27 413.78 292.33 416.70 293.70C419.62 295.07 427.75 295.13 426.00 296.10C424.25 297.07 407.57 298.33 406.20 299.50C404.83 300.67 414.88 301.93 417.80 303.10C420.72 304.27 425.25 305.53 423.70 306.50C422.15 307.47 408.50 307.72 408.50 308.90C408.50 310.08 424.48 312.23 423.70 313.60C422.92 314.97 403.80 315.73 403.80 317.10C403.80 318.47 422.53 320.05 423.70 321.80C424.87 323.55 411.28 326.23 410.80 327.60C410.32 328.97 423.13 329.02 420.80 330.00C418.47 330.98 397.30 332.53 396.80 333.50C396.30 334.47 413.47 335.13 417.80 335.80C422.13 336.47 421.97 337.22 422.80 337.50" fill="none" stroke="#30d8d4" stroke-width="1.3" stroke-linejoin="round" stroke-linecap="round"/><path d="M323.90 237.40L424.10 234.60A1.40 1.40 0 0 1 424.10 237.40L323.90 240.20A1.40 1.40 0 0 1 323.90 237.40Z" fill="none" stroke="#30d8d4" stroke-width="1.25"/><path d="M384.85 246.85L488.05 249.85A1.35 1.35 0 0 1 488.05 252.55L384.85 249.55A1.35 1.35 0 0 1 384.85 246.85Z" fill="none" stroke="#30d8d4" stroke-width="1.25"/></g><path d="M42.70 13.10v-2.0M42.70 167.70v2.0M54.65 13.10v-2.0M54.65 167.70v2.0M66.60 13.10v-4.2M66.60 167.70v4.2M78.55 13.10v-2.0M78.55 167.70v2.0M90.50 13.10v-2.0M90.50 167.70v2.0M102.45 13.10v-4.2M102.45 167.70v4.2M114.40 13.10v-2.0M114.40 167.70v2.0M126.35 13.10v-2.0M126.35 167.70v2.0M138.30 13.10v-4.2M138.30 167.70v4.2M150.25 13.10v-2.0M150.25 167.70v2.0M162.20 13.10v-2.0M162.20 167.70v2.0M174.15 13.10v-4.2M174.15 167.70v4.2M186.10 13.10v-2.0M186.10 167.70v2.0M198.05 13.10v-2.0M198.05 167.70v2.0M210.00 13.10v-4.2M210.00 167.70v4.2M221.95 13.10v-2.0M221.95 167.70v2.0M233.90 13.10v-2.0M233.90 167.70v2.0M245.85 13.10v-4.2M245.85 167.70v4.2M257.80 13.10v-2.0M257.80 167.70v2.0M269.75 13.10v-2.0M269.75 167.70v2.0M281.70 13.10v-4.2M281.70 167.70v4.2M42.70 167.70h-2.0M281.70 167.70h2.0M42.70 162.18h-2.0M281.70 162.18h2.0M42.70 156.66h-4.2M281.70 156.66h4.2M42.70 151.14h-2.0M281.70 151.14h2.0M42.70 145.61h-2.0M281.70 145.61h2.0M42.70 140.09h-2.0M281.70 140.09h2.0M42.70 134.57h-4.2M281.70 134.57h4.2M42.70 129.05h-2.0M281.70 129.05h2.0M42.70 123.53h-2.0M281.70 123.53h2.0M42.70 118.01h-2.0M281.70 118.01h2.0M42.70 112.49h-4.2M281.70 112.49h4.2M42.70 106.96h-2.0M281.70 106.96h2.0M42.70 101.44h-2.0M281.70 101.44h2.0M42.70 95.92h-2.0M281.70 95.92h2.0M42.70 90.40h-4.2M281.70 90.40h4.2M42.70 84.88h-2.0M281.70 84.88h2.0M42.70 79.36h-2.0M281.70 79.36h2.0M42.70 73.84h-2.0M281.70 73.84h2.0M42.70 68.31h-4.2M281.70 68.31h4.2M42.70 62.79h-2.0M281.70 62.79h2.0M42.70 57.27h-2.0M281.70 57.27h2.0M42.70 51.75h-2.0M281.70 51.75h2.0M42.70 46.23h-4.2M281.70 46.23h4.2M42.70 40.71h-2.0M281.70 40.71h2.0M42.70 35.19h-2.0M281.70 35.19h2.0M42.70 29.66h-2.0M281.70 29.66h2.0M42.70 24.14h-4.2M281.70 24.14h4.2M42.70 18.62h-2.0M281.70 18.62h2.0M42.70 13.10h-2.0M281.70 13.10h2.0M295.70 13.10v-2.0M295.70 167.70v2.0M307.65 13.10v-2.0M307.65 167.70v2.0M319.60 13.10v-4.2M319.60 167.70v4.2M331.55 13.10v-2.0M331.55 167.70v2.0M343.50 13.10v-2.0M343.50 167.70v2.0M355.45 13.10v-4.2M355.45 167.70v4.2M367.40 13.10v-2.0M367.40 167.70v2.0M379.35 13.10v-2.0M379.35 167.70v2.0M391.30 13.10v-4.2M391.30 167.70v4.2M403.25 13.10v-2.0M403.25 167.70v2.0M415.20 13.10v-2.0M415.20 167.70v2.0M427.15 13.10v-4.2M427.15 167.70v4.2M439.10 13.10v-2.0M439.10 167.70v2.0M451.05 13.10v-2.0M451.05 167.70v2.0M463.00 13.10v-4.2M463.00 167.70v4.2M474.95 13.10v-2.0M474.95 167.70v2.0M486.90 13.10v-2.0M486.90 167.70v2.0M498.85 13.10v-4.2M498.85 167.70v4.2M510.80 13.10v-2.0M510.80 167.70v2.0M522.75 13.10v-2.0M522.75 167.70v2.0M534.70 13.10v-4.2M534.70 167.70v4.2M295.70 167.70h-2.0M534.70 167.70h2.0M295.70 162.18h-2.0M534.70 162.18h2.0M295.70 156.66h-4.2M534.70 156.66h4.2M295.70 151.14h-2.0M534.70 151.14h2.0M295.70 145.61h-2.0M534.70 145.61h2.0M295.70 140.09h-2.0M534.70 140.09h2.0M295.70 134.57h-4.2M534.70 134.57h4.2M295.70 129.05h-2.0M534.70 129.05h2.0M295.70 123.53h-2.0M534.70 123.53h2.0M295.70 118.01h-2.0M534.70 118.01h2.0M295.70 112.49h-4.2M534.70 112.49h4.2M295.70 106.96h-2.0M534.70 106.96h2.0M295.70 101.44h-2.0M534.70 101.44h2.0M295.70 95.92h-2.0M534.70 95.92h2.0M295.70 90.40h-4.2M534.70 90.40h4.2M295.70 84.88h-2.0M534.70 84.88h2.0M295.70 79.36h-2.0M534.70 79.36h2.0M295.70 73.84h-2.0M534.70 73.84h2.0M295.70 68.31h-4.2M534.70 68.31h4.2M295.70 62.79h-2.0M534.70 62.79h2.0M295.70 57.27h-2.0M534.70 57.27h2.0M295.70 51.75h-2.0M534.70 51.75h2.0M295.70 46.23h-4.2M534.70 46.23h4.2M295.70 40.71h-2.0M534.70 40.71h2.0M295.70 35.19h-2.0M534.70 35.19h2.0M295.70 29.66h-2.0M534.70 29.66h2.0M295.70 24.14h-4.2M534.70 24.14h4.2M295.70 18.62h-2.0M534.70 18.62h2.0M295.70 13.10h-2.0M534.70 13.10h2.0M42.70 181.10v-2.0M42.70 336.00v2.0M54.65 181.10v-2.0M54.65 336.00v2.0M66.60 181.10v-4.2M66.60 336.00v4.2M78.55 181.10v-2.0M78.55 336.00v2.0M90.50 181.10v-2.0M90.50 336.00v2.0M102.45 181.10v-4.2M102.45 336.00v4.2M114.40 181.10v-2.0M114.40 336.00v2.0M126.35 181.10v-2.0M126.35 336.00v2.0M138.30 181.10v-4.2M138.30 336.00v4.2M150.25 181.10v-2.0M150.25 336.00v2.0M162.20 181.10v-2.0M162.20 336.00v2.0M174.15 181.10v-4.2M174.15 336.00v4.2M186.10 181.10v-2.0M186.10 336.00v2.0M198.05 181.10v-2.0M198.05 336.00v2.0M210.00 181.10v-4.2M210.00 336.00v4.2M221.95 181.10v-2.0M221.95 336.00v2.0M233.90 181.10v-2.0M233.90 336.00v2.0M245.85 181.10v-4.2M245.85 336.00v4.2M257.80 181.10v-2.0M257.80 336.00v2.0M269.75 181.10v-2.0M269.75 336.00v2.0M281.70 181.10v-4.2M281.70 336.00v4.2M42.70 336.00h-2.0M281.70 336.00h2.0M42.70 330.47h-2.0M281.70 330.47h2.0M42.70 324.94h-4.2M281.70 324.94h4.2M42.70 319.40h-2.0M281.70 319.40h2.0M42.70 313.87h-2.0M281.70 313.87h2.0M42.70 308.34h-2.0M281.70 308.34h2.0M42.70 302.81h-4.2M281.70 302.81h4.2M42.70 297.27h-2.0M281.70 297.27h2.0M42.70 291.74h-2.0M281.70 291.74h2.0M42.70 286.21h-2.0M281.70 286.21h2.0M42.70 280.68h-4.2M281.70 280.68h4.2M42.70 275.15h-2.0M281.70 275.15h2.0M42.70 269.61h-2.0M281.70 269.61h2.0M42.70 264.08h-2.0M281.70 264.08h2.0M42.70 258.55h-4.2M281.70 258.55h4.2M42.70 253.02h-2.0M281.70 253.02h2.0M42.70 247.49h-2.0M281.70 247.49h2.0M42.70 241.95h-2.0M281.70 241.95h2.0M42.70 236.42h-4.2M281.70 236.42h4.2M42.70 230.89h-2.0M281.70 230.89h2.0M42.70 225.36h-2.0M281.70 225.36h2.0M42.70 219.82h-2.0M281.70 219.82h2.0M42.70 214.29h-4.2M281.70 214.29h4.2M42.70 208.76h-2.0M281.70 208.76h2.0M42.70 203.23h-2.0M281.70 203.23h2.0M42.70 197.70h-2.0M281.70 197.70h2.0M42.70 192.16h-4.2M281.70 192.16h4.2M42.70 186.63h-2.0M281.70 186.63h2.0M42.70 181.10h-2.0M281.70 181.10h2.0M295.70 181.10v-2.0M295.70 336.00v2.0M307.65 181.10v-2.0M307.65 336.00v2.0M319.60 181.10v-4.2M319.60 336.00v4.2M331.55 181.10v-2.0M331.55 336.00v2.0M343.50 181.10v-2.0M343.50 336.00v2.0M355.45 181.10v-4.2M355.45 336.00v4.2M367.40 181.10v-2.0M367.40 336.00v2.0M379.35 181.10v-2.0M379.35 336.00v2.0M391.30 181.10v-4.2M391.30 336.00v4.2M403.25 181.10v-2.0M403.25 336.00v2.0M415.20 181.10v-2.0M415.20 336.00v2.0M427.15 181.10v-4.2M427.15 336.00v4.2M439.10 181.10v-2.0M439.10 336.00v2.0M451.05 181.10v-2.0M451.05 336.00v2.0M463.00 181.10v-4.2M463.00 336.00v4.2M474.95 181.10v-2.0M474.95 336.00v2.0M486.90 181.10v-2.0M486.90 336.00v2.0M498.85 181.10v-4.2M498.85 336.00v4.2M510.80 181.10v-2.0M510.80 336.00v2.0M522.75 181.10v-2.0M522.75 336.00v2.0M534.70 181.10v-4.2M534.70 336.00v4.2M295.70 336.00h-2.0M534.70 336.00h2.0M295.70 330.47h-2.0M534.70 330.47h2.0M295.70 324.94h-4.2M534.70 324.94h4.2M295.70 319.40h-2.0M534.70 319.40h2.0M295.70 313.87h-2.0M534.70 313.87h2.0M295.70 308.34h-2.0M534.70 308.34h2.0M295.70 302.81h-4.2M534.70 302.81h4.2M295.70 297.27h-2.0M534.70 297.27h2.0M295.70 291.74h-2.0M534.70 291.74h2.0M295.70 286.21h-2.0M534.70 286.21h2.0M295.70 280.68h-4.2M534.70 280.68h4.2M295.70 275.15h-2.0M534.70 275.15h2.0M295.70 269.61h-2.0M534.70 269.61h2.0M295.70 264.08h-2.0M534.70 264.08h2.0M295.70 258.55h-4.2M534.70 258.55h4.2M295.70 253.02h-2.0M534.70 253.02h2.0M295.70 247.49h-2.0M534.70 247.49h2.0M295.70 241.95h-2.0M534.70 241.95h2.0M295.70 236.42h-4.2M534.70 236.42h4.2M295.70 230.89h-2.0M534.70 230.89h2.0M295.70 225.36h-2.0M534.70 225.36h2.0M295.70 219.82h-2.0M534.70 219.82h2.0M295.70 214.29h-4.2M534.70 214.29h4.2M295.70 208.76h-2.0M534.70 208.76h2.0M295.70 203.23h-2.0M534.70 203.23h2.0M295.70 197.70h-2.0M534.70 197.70h2.0M295.70 192.16h-4.2M534.70 192.16h4.2M295.70 186.63h-2.0M534.70 186.63h2.0M295.70 181.10h-2.0M534.70 181.10h2.0" stroke="#777" stroke-width="0.7" fill="none"/><rect x="42.7" y="13.1" width="239.00" height="154.60" fill="none" stroke="#333" stroke-width="0.8"/><rect x="295.7" y="13.1" width="239.00" height="154.60" fill="none" stroke="#333" stroke-width="0.8"/><rect x="42.7" y="181.1" width="239.00" height="154.90" fill="none" stroke="#333" stroke-width="0.8"/><rect x="295.7" y="181.1" width="239.00" height="154.90" fill="none" stroke="#333" stroke-width="0.8"/>
<text x="36.2" y="160.66" text-anchor="end" class="t">-60</text><text x="36.2" y="138.57" text-anchor="end" class="t">-40</text><text x="36.2" y="116.49" text-anchor="end" class="t">-20</text><text x="36.2" y="94.40" text-anchor="end" class="t">0</text><text x="36.2" y="72.31" text-anchor="end" class="t">20</text><text x="36.2" y="50.23" text-anchor="end" class="t">40</text><text x="36.2" y="28.14" text-anchor="end" class="t">60</text><text transform="translate(14.4 90.40) rotate(-90)" text-anchor="middle" class="t">Planetographic Latitude (deg)</text><text x="36.2" y="328.94" text-anchor="end" class="t">-60</text><text x="36.2" y="306.81" text-anchor="end" class="t">-40</text><text x="36.2" y="284.68" text-anchor="end" class="t">-20</text><text x="36.2" y="262.55" text-anchor="end" class="t">0</text><text x="36.2" y="240.42" text-anchor="end" class="t">20</text><text x="36.2" y="218.29" text-anchor="end" class="t">40</text><text x="36.2" y="196.16" text-anchor="end" class="t">60</text><text transform="translate(14.4 258.55) rotate(-90)" text-anchor="middle" class="t">Planetographic Latitude (deg)</text><text x="66.60" y="355.3" text-anchor="middle" class="t">360</text><text x="174.15" y="355.3" text-anchor="middle" class="t">270</text><text x="281.70" y="355.3" text-anchor="middle" class="t">180</text><text x="162.20" y="365.6" text-anchor="middle" class="t">Longitude (deg)</text><text x="319.60" y="355.3" text-anchor="middle" class="t">360</text><text x="427.15" y="355.3" text-anchor="middle" class="t">270</text><text x="534.70" y="355.3" text-anchor="middle" class="t">180</text><text x="415.20" y="365.6" text-anchor="middle" class="t">Longitude (deg)</text><text x="47.70" y="28.20" class="h">Keck / NIRSPEC</text><text x="47.70" y="37.40" class="s">2017-02-04 (2.1 &#956;m)</text><text x="300.70" y="28.20" class="h">Gemini / NIRI</text><text x="300.70" y="37.40" class="s">2017-02-01 (4.7 &#956;m)</text><text x="47.70" y="196.20" class="h">HST / WFC3</text><text x="47.70" y="205.40" class="s">2017-02-02 (RGB: 631 nm, 502 nm, 395 nm)</text><text x="300.70" y="196.20" class="h">HST / WFC3</text><text x="300.70" y="205.40" class="s">2017-02-01 (CH4: 750 nm, 727 nm, 889 nm)</text>
</svg></body></html>
